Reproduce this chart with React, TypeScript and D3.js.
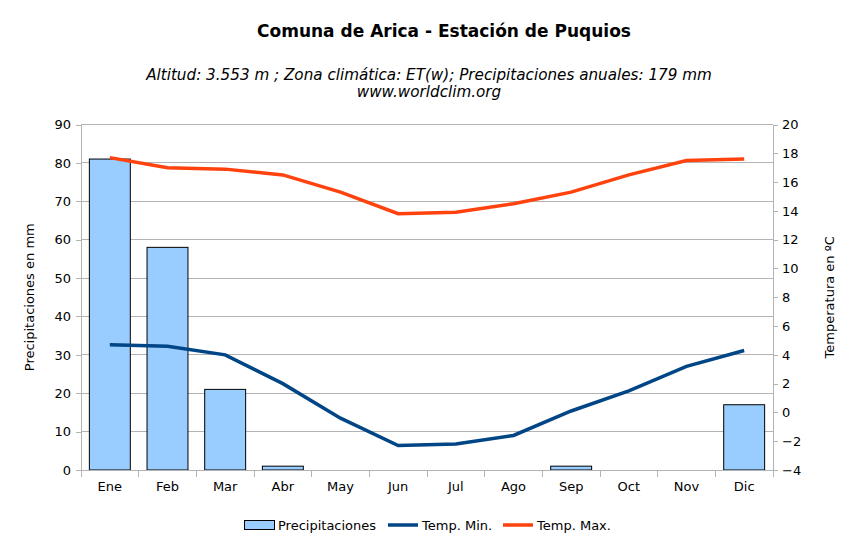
import React, { useEffect, useRef } from 'react';
import * as d3 from 'd3';

const months = ['Ene', 'Feb', 'Mar', 'Abr', 'May', 'Jun', 'Jul', 'Ago', 'Sep', 'Oct', 'Nov', 'Dic'];
const precip = [81, 58, 21, 1, 0, 0, 0, 0, 1, 0, 0, 17];
const tempMin = [4.7, 4.6, 4.0, 2.0, -0.4, -2.3, -2.2, -1.6, 0.1, 1.5, 3.2, 4.3];
const tempMax = [17.7, 17.0, 16.9, 16.5, 15.3, 13.8, 13.9, 14.5, 15.3, 16.5, 17.5, 17.6];
const precipTicks = [0, 10, 20, 30, 40, 50, 60, 70, 80, 90];
const tempTicks = [-4, -2, 0, 2, 4, 6, 8, 10, 12, 14, 16, 18, 20];

const W = 857;
const H = 537;
const FONT = 'DejaVu Sans, Verdana, sans-serif';

const App: React.FC = () => {
  const ref = useRef<SVGSVGElement>(null);

  useEffect(() => {
    document.body.style.margin = '0';
    const svg = d3.select(ref.current);
    svg.selectAll('*').remove();

    // plot area
    const left = 81, right = 773, top = 124.5, bottom = 470;

    const x = d3.scaleBand().domain(months).range([left, right]).paddingInner(0.29).paddingOuter(0.145);
    const xc = d3.scaleBand().domain(months).range([left, right]);
    const yP = d3.scaleLinear().domain([0, 90]).range([bottom, top]);
    const yT = d3.scaleLinear().domain([-4, 20]).range([bottom, top]);

    svg.append('rect').attr('width', W).attr('height', H).attr('fill', '#fff');

    // gridlines
    svg.append('g')
      .selectAll('line')
      .data(precipTicks)
      .enter().append('line')
      .attr('x1', left).attr('x2', right)
      .attr('y1', d => yP(d)).attr('y2', d => yP(d))
      .attr('stroke', '#b3b3b3').attr('stroke-width', 1)
      .attr('shape-rendering', 'crispEdges');

    // bars
    svg.append('g')
      .selectAll('rect')
      .data(precip.map((v, i) => ({ m: months[i], v })).filter(d => d.v > 0))
      .enter().append('rect')
      .attr('x', d => x(d.m)!)
      .attr('y', d => yP(d.v))
      .attr('width', x.bandwidth())
      .attr('height', d => bottom - yP(d.v))
      .attr('fill', '#99ccff')
      .attr('stroke', '#000')
      .attr('stroke-width', 1);

    // lines
    const line = d3.line<number>()
      .x((_, i) => xc(months[i])! + xc.bandwidth() / 2)
      .y(d => yT(d));

    svg.append('path').datum(tempMin).attr('d', line)
      .attr('fill', 'none').attr('stroke', '#004586').attr('stroke-width', 3.5);
    svg.append('path').datum(tempMax).attr('d', line)
      .attr('fill', 'none').attr('stroke', '#ff420e').attr('stroke-width', 3.5);

    // axes
    const styleAxis = (g: d3.Selection<SVGGElement, unknown, null, undefined>) => {
      g.selectAll('.domain').attr('stroke', '#b3b3b3');
      g.selectAll('.tick line').attr('stroke', '#b3b3b3');
      g.selectAll('.tick text')
        .attr('fill', '#000')
        .style('font-family', FONT)
        .style('font-size', '13px');
      g.attr('shape-rendering', 'crispEdges');
    };

    svg.append('g')
      .attr('transform', `translate(${left},0)`)
      .call(d3.axisLeft(yP).tickValues(precipTicks).tickSize(5).tickSizeOuter(0).tickPadding(5))
      .call(styleAxis);

    svg.append('g')
      .attr('transform', `translate(${right},0)`)
      .call(d3.axisRight(yT).tickValues(tempTicks).tickSize(5).tickSizeOuter(0).tickPadding(4))
      .call(styleAxis);

    const xAxis = svg.append('g')
      .attr('transform', `translate(0,${bottom})`)
      .call(d3.axisBottom(xc).tickSize(0).tickPadding(12))
      .call(styleAxis);
    // category separators
    xAxis.selectAll('line.sep')
      .data(d3.range(months.length + 1))
      .enter().append('line')
      .attr('class', 'sep')
      .attr('x1', i => left + i * xc.step())
      .attr('x2', i => left + i * xc.step())
      .attr('y1', 0).attr('y2', 7)
      .attr('stroke', '#b3b3b3')
      .attr('shape-rendering', 'crispEdges');

    // axis titles
    svg.append('text')
      .attr('transform', `translate(34,${(top + bottom) / 2}) rotate(-90)`)
      .attr('text-anchor', 'middle')
      .style('font-family', FONT).style('font-size', '13px')
      .text('Precipitaciones en mm');
    svg.append('text')
      .attr('transform', `translate(834,${(top + bottom) / 2}) rotate(-90)`)
      .attr('text-anchor', 'middle')
      .style('font-family', FONT).style('font-size', '13px')
      .text('Temperatura en ºC');

    // titles
    svg.append('text')
      .attr('x', 444).attr('y', 37)
      .attr('text-anchor', 'middle')
      .style('font-family', FONT).style('font-size', '17px').style('font-weight', 'bold')
      .text('Comuna de Arica - Estación de Puquios');
    svg.append('text')
      .attr('x', 429).attr('y', 80)
      .attr('text-anchor', 'middle')
      .style('font-family', FONT).style('font-size', '15.2px').style('font-style', 'italic')
      .text('Altitud: 3.553 m ;  Zona climática: ET(w);  Precipitaciones anuales: 179 mm');
    svg.append('text')
      .attr('x', 429).attr('y', 97)
      .attr('text-anchor', 'middle')
      .style('font-family', FONT).style('font-size', '15.2px').style('font-style', 'italic')
      .text('www.worldclim.org');

    // legend
    const leg = svg.append('g').style('font-family', FONT).style('font-size', '13px');
    leg.append('rect').attr('x', 244.5).attr('y', 520.5).attr('width', 30).attr('height', 9)
      .attr('fill', '#99ccff').attr('stroke', '#000');
    leg.append('text').attr('x', 278).attr('y', 530).text('Precipitaciones');
    leg.append('line').attr('x1', 388).attr('x2', 418).attr('y1', 525).attr('y2', 525)
      .attr('stroke', '#004586').attr('stroke-width', 3.5);
    leg.append('text').attr('x', 422).attr('y', 530).text('Temp. Min.');
    leg.append('line').attr('x1', 503).attr('x2', 533).attr('y1', 525).attr('y2', 525)
      .attr('stroke', '#ff420e').attr('stroke-width', 3.5);
    leg.append('text').attr('x', 537).attr('y', 530).text('Temp. Max.');
  }, []);

  return <svg ref={ref} width={W} height={H} style={{ display: 'block' }} />;
};

export default App;
